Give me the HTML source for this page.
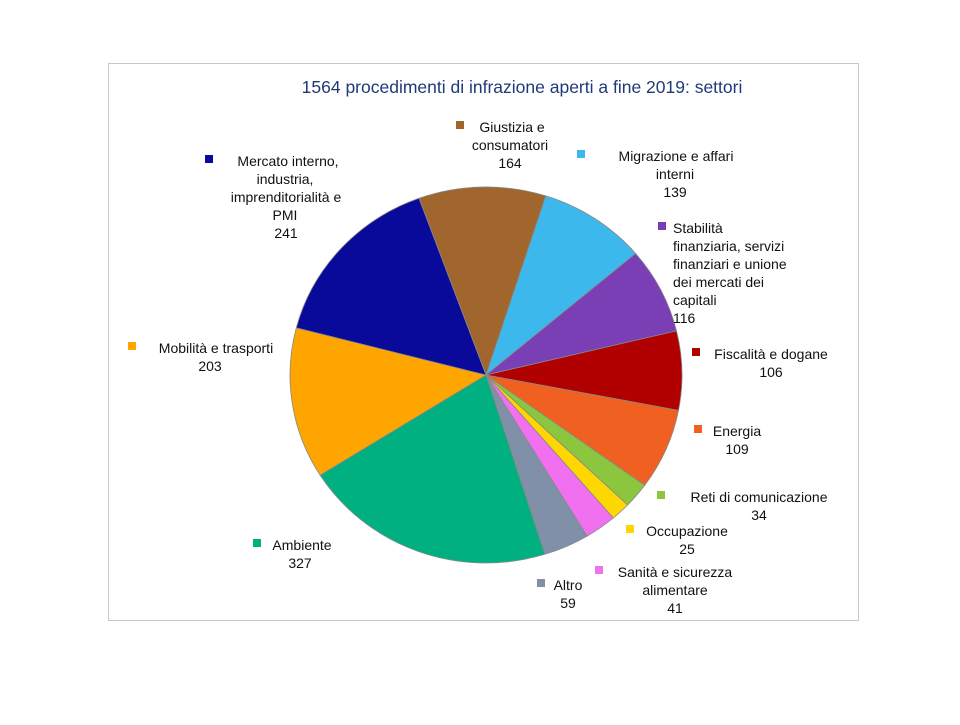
<!DOCTYPE html>
<html><head><meta charset="utf-8"><style>
body{margin:0;background:#fff;width:960px;height:720px;overflow:hidden}
svg text{font-family:"Liberation Sans",sans-serif;font-size:14px;fill:#111}
</style></head><body>
<svg width="960" height="720" xmlns="http://www.w3.org/2000/svg">
<rect x="108.5" y="63.5" width="750" height="557" fill="#fff" stroke="#c8c8c8"/>
<text x="522" y="93" text-anchor="middle" style="font-size:17.5px;fill:#1f3a78">1564 procedimenti di infrazione aperti a fine 2019: settori</text>
<g id="pie"></g>
<g text-anchor="middle">
<rect x="205" y="155" width="8" height="8" fill="#0a0a9a"/>
<text x="288" y="166">Mercato interno,</text><text x="285" y="184">industria,</text><text x="286" y="202">imprenditorialità e</text><text x="285" y="220">PMI</text><text x="286" y="238">241</text>
<rect x="456" y="121" width="8" height="8" fill="#a0662e"/>
<text x="512" y="132">Giustizia e</text><text x="510" y="150">consumatori</text><text x="510" y="168">164</text>
<rect x="577" y="150" width="8" height="8" fill="#3db8ec"/>
<text x="676" y="161">Migrazione e affari</text><text x="675" y="179">interni</text><text x="675" y="197">139</text>
<rect x="128" y="342" width="8" height="8" fill="#ffa500"/>
<text x="216" y="353">Mobilità e trasporti</text><text x="210" y="371">203</text>
<rect x="692" y="348" width="8" height="8" fill="#b00000"/>
<text x="771" y="359">Fiscalità e dogane</text><text x="771" y="377">106</text>
<rect x="694" y="425" width="8" height="8" fill="#f06020"/>
<text x="737" y="436">Energia</text><text x="737" y="454">109</text>
<rect x="657" y="491" width="8" height="8" fill="#8cc63f"/>
<text x="759" y="502">Reti di comunicazione</text><text x="759" y="520">34</text>
<rect x="626" y="525" width="8" height="8" fill="#ffd700"/>
<text x="687" y="536">Occupazione</text><text x="687" y="554">25</text>
<rect x="253" y="539" width="8" height="8" fill="#00b080"/>
<text x="302" y="550">Ambiente</text><text x="300" y="568">327</text>
<rect x="537" y="579" width="8" height="8" fill="#8090a8"/>
<text x="568" y="590">Altro</text><text x="568" y="608">59</text>
<rect x="595" y="566" width="8" height="8" fill="#f070f0"/>
<text x="675" y="577">Sanità e sicurezza</text><text x="675" y="595">alimentare</text><text x="675" y="613">41</text>
</g>
<g>
<rect x="658" y="222" width="8" height="8" fill="#7b3fb5"/>
<text x="673" y="233">Stabilità</text><text x="673" y="251">finanziaria, servizi</text><text x="673" y="269">finanziari e unione</text><text x="673" y="287">dei mercati dei</text><text x="673" y="305">capitali</text><text x="673" y="323">116</text>
</g>
</svg>
<script>
var d=[[164,"#a0662e"],[139,"#3db8ec"],[116,"#7b3fb5"],[106,"#b00000"],[109,"#f06020"],[34,"#8cc63f"],[25,"#ffd700"],[41,"#f070f0"],[59,"#8090a8"],[327,"#00b080"],[203,"#ffa500"],[241,"#0a0a9a"]];
var cx=486,cy=375,rx=196,ry=188,a=-20*Math.PI/180,s="";
function p(t){return [cx+rx*Math.sin(t),cy-ry*Math.cos(t)];}
d.forEach(function(e){var b=a+e[0]/1564*2*Math.PI,p1=p(a),p2=p(b),l=(b-a)>Math.PI?1:0;
s+='<path d="M'+cx+','+cy+'L'+p1[0].toFixed(1)+','+p1[1].toFixed(1)+'A'+rx+','+ry+' 0 '+l+' 1 '+p2[0].toFixed(1)+','+p2[1].toFixed(1)+'Z" fill="'+e[1]+'" stroke="#888" stroke-width="0.8"/>';a=b;});
document.getElementById("pie").innerHTML=s;
</script>
</body></html>
